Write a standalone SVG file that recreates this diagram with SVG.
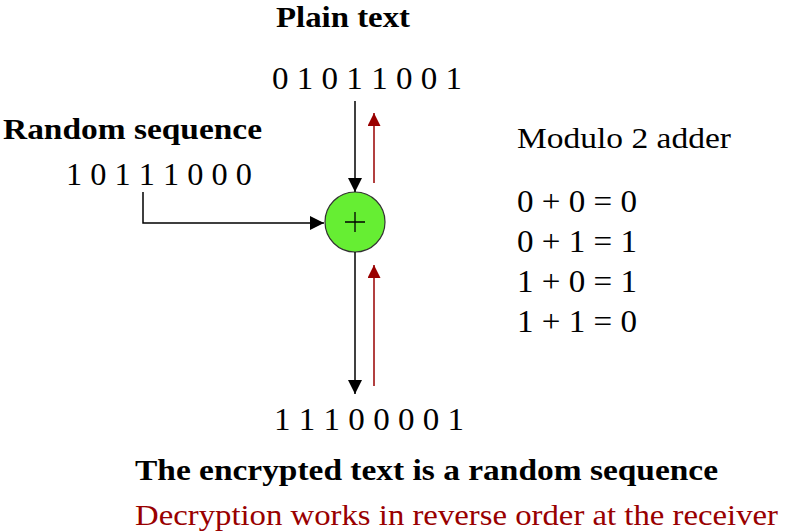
<svg xmlns="http://www.w3.org/2000/svg" width="794" height="532" viewBox="0 0 794 532">
  <defs>
    <style>
      .bold { font-weight: bold; }
      .big { font-size: 30px; }
      .digits { font-size: 32px; }
      .red { fill: #990000; }
      .wire { stroke: #000; stroke-width: 1.5; fill: none; }
      .back { stroke: #990000; stroke-width: 1.5; fill: none; }
    </style>
    <marker id="headBlack" viewBox="0 0 14 14" refX="14" refY="7" markerWidth="14" markerHeight="14" markerUnits="userSpaceOnUse" orient="auto">
      <path d="M0,0 L14,7 L0,14 Z" fill="#000"/>
    </marker>
    <marker id="headRed" viewBox="0 0 14 14" refX="14" refY="7" markerWidth="14" markerHeight="13" markerUnits="userSpaceOnUse" orient="auto">
      <path d="M0,0 L14,7 L0,14 Z" fill="#990000"/>
    </marker>
  </defs>

  <rect width="794" height="532" fill="#fff"/>

  <!-- labels and bit strings -->
  <g id="plain-text">
    <text font-family="Liberation Serif" class="bold big" x="276" y="27" textLength="134" lengthAdjust="spacingAndGlyphs">Plain text</text>
    <text font-family="Liberation Serif" class="digits" x="272" y="89" textLength="190" lengthAdjust="spacingAndGlyphs">0 1 0 1 1 0 0 1</text>
  </g>

  <g id="random-sequence">
    <text font-family="Liberation Serif" class="bold big" x="3" y="139" textLength="259" lengthAdjust="spacingAndGlyphs">Random sequence</text>
    <text font-family="Liberation Serif" class="digits" x="66" y="185" textLength="186" lengthAdjust="spacingAndGlyphs">1 0 1 1 1 0 0 0</text>
  </g>

  <g id="cipher-text">
    <text font-family="Liberation Serif" class="digits" x="274" y="430" textLength="190" lengthAdjust="spacingAndGlyphs">1 1 1 0 0 0 0 1</text>
  </g>

  <g id="modulo-table">
    <text font-family="Liberation Serif" class="big" x="517" y="148" textLength="214" lengthAdjust="spacingAndGlyphs">Modulo 2 adder</text>
    <text font-family="Liberation Serif" class="digits" x="517" y="212" textLength="120" lengthAdjust="spacingAndGlyphs">0 + 0 = 0</text>
    <text font-family="Liberation Serif" class="digits" x="517" y="252" textLength="120" lengthAdjust="spacingAndGlyphs">0 + 1 = 1</text>
    <text font-family="Liberation Serif" class="digits" x="517" y="292" textLength="120" lengthAdjust="spacingAndGlyphs">1 + 0 = 1</text>
    <text font-family="Liberation Serif" class="digits" x="517" y="332" textLength="120" lengthAdjust="spacingAndGlyphs">1 + 1 = 0</text>
  </g>

  <g id="notes">
    <text font-family="Liberation Serif" class="bold big" x="135" y="480" textLength="583" lengthAdjust="spacingAndGlyphs">The encrypted text is a random sequence</text>
    <text font-family="Liberation Serif" class="big red" x="135" y="525" textLength="643" lengthAdjust="spacingAndGlyphs">Decryption works in reverse order at the receiver</text>
  </g>

  <!-- XOR adder -->
  <g id="adder">
    <circle cx="355" cy="222" r="30" fill="#66ee33" stroke="#333" stroke-width="1.2"/>
    <path d="M345,222 H365 M355,212 V232" stroke="#000" stroke-width="1.3"/>
  </g>

  <!-- connectors -->
  <g id="connectors">
    <path class="wire" d="M355,101 V192" marker-end="url(#headBlack)"/>
    <path class="wire" d="M143,192 V223 H324" marker-end="url(#headBlack)"/>
    <path class="wire" d="M355,252 V394" marker-end="url(#headBlack)"/>
    <path class="back" d="M374,183 V113" marker-end="url(#headRed)"/>
    <path class="back" d="M374,386 V265" marker-end="url(#headRed)"/>
  </g>
</svg>
